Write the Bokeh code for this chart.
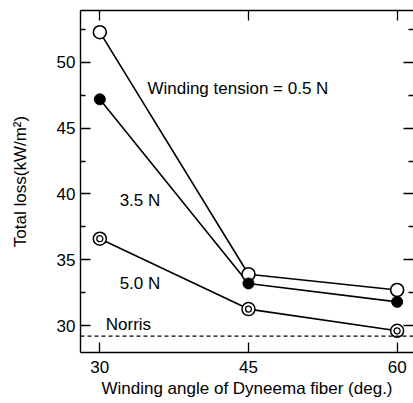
from bokeh.plotting import figure
from bokeh.models import LinearAxis, FixedTicker, Label, Span, Range1d
from bokeh.embed import file_html
from bokeh.resources import INLINE

# Data
angles = [30, 45, 60]
loss_05N = [52.3, 33.9, 32.7]
loss_35N = [47.2, 33.2, 31.8]
loss_50N = [36.6, 31.25, 29.6]
norris_loss = 29.2
x_ticks = [30, 45, 60]
y_ticks = [30, 35, 40, 45, 50]
y_minor = [27.5, 32.5, 37.5, 42.5, 47.5, 52.5]

FONT = "Liberation Sans"
FS = "17px"

p = figure(width=413, height=403, output_backend="svg", toolbar_location=None,
           x_range=Range1d(28.05, 61.65), y_range=Range1d(27.95, 53.95),
           min_border_left=80, min_border_right=0, min_border_top=10, min_border_bottom=51,
           x_axis_type=None, y_axis_type=None)
p.outline_line_color = None
p.xgrid.visible = False
p.ygrid.visible = False
p.background_fill_color = "white"
p.border_fill_color = "white"

def style(ax, labels=True, line=True, ticks=None):
    ax.major_tick_in = 10
    ax.major_tick_out = 0
    ax.minor_tick_in = 5
    ax.minor_tick_out = 0
    ax.major_tick_line_color = "black"
    ax.minor_tick_line_color = "black"
    ax.major_tick_line_width = 1.3
    ax.minor_tick_line_width = 1.3
    ax.axis_line_width = 1.4
    ax.axis_line_color = "black" if line else None
    if labels:
        ax.major_label_text_font = FONT
        ax.major_label_text_font_size = FS
        ax.major_label_text_color = "black"
        ax.axis_label_text_font = FONT
        ax.axis_label_text_font_size = FS
        ax.axis_label_text_font_style = "normal"
        ax.axis_label_text_color = "black"
    else:
        ax.major_label_overrides = {t: "" for t in ticks}
        ax.major_label_standoff = 0

xb = LinearAxis(ticker=FixedTicker(ticks=x_ticks, minor_ticks=[]),
                axis_label="Winding angle of Dyneema fiber (deg.)")
style(xb)
xb.major_label_standoff = 8
xb.axis_label_standoff = 3
p.add_layout(xb, "below")

xt = LinearAxis(ticker=FixedTicker(ticks=x_ticks, minor_ticks=[]))
style(xt, labels=False, ticks=x_ticks)
p.add_layout(xt, "above")

yl = LinearAxis(ticker=FixedTicker(ticks=y_ticks, minor_ticks=y_minor),
                axis_label="Total loss(kW/m²)")
style(yl)
yl.major_label_standoff = 5
yl.axis_label_standoff = 24
p.add_layout(yl, "left")

yr = LinearAxis(ticker=FixedTicker(ticks=y_ticks, minor_ticks=y_minor))
style(yr, labels=False, line=False, ticks=y_ticks)
p.add_layout(yr, "right")

p.add_layout(Span(location=norris_loss, dimension="width", line_color="black",
                  line_width=1.2, line_dash="4 3"))

for ys in (loss_05N, loss_35N, loss_50N):
    p.line(angles, ys, line_color="black", line_width=1.6)

p.scatter(angles, loss_05N, marker="circle", size=13, fill_color="white",
          line_color="black", line_width=1.6)
p.scatter(angles, loss_35N, marker="circle", size=11, fill_color="black",
          line_color="black", line_width=1)
p.scatter(angles, loss_50N, marker="circle", size=13, fill_color="white",
          line_color="black", line_width=1.5)
p.scatter(angles, loss_50N, marker="circle", size=6, fill_color="white",
          line_color="black", line_width=1.3)

for txt, lx, ly in [("Winding tension = 0.5 N", 34.8, 48.0),
                    ("3.5 N", 32.0, 39.5),
                    ("5.0 N", 32.0, 33.2),
                    ("Norris", 30.6, 30.1)]:
    p.add_layout(Label(x=lx, y=ly, text=txt, text_font=FONT, text_font_size=FS,
                       text_baseline="middle", text_align="left", text_color="black"))

open("out.html", "w").write(file_html(p, INLINE))
